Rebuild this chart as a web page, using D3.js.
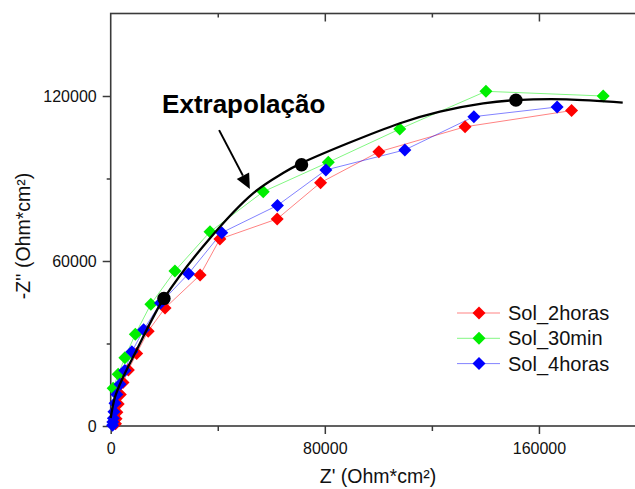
<!DOCTYPE html>
<html>
<head>
<meta charset="utf-8">
<script src="https://cdn.jsdelivr.net/npm/d3@7"></script>
<style>
  body { margin: 0; background: #fff; }
  svg { display: block; font-family: Arial, "Liberation Sans", sans-serif; }
</style>
</head>
<body>
<div id="chart"></div>
<script>
// Nyquist data, values in Ohm*cm2 (Z', -Z'')
var sol2horasX = [1800, 2000, 2300, 2800, 3600, 4600, 6600, 9700, 14000, 20300, 33400, 40800, 62200, 78400, 100200, 132400, 172200];
var sol2horasY = [800, 2600, 5000, 8000, 11500, 15800, 20400, 26400, 34500, 42900, 54900, 68000, 75300, 88500, 99700, 108800, 114700];

var sol30minX = [900, 2800, 5300, 9200, 15000, 24000, 37100, 57000, 81300, 108000, 140200, 184000];
var sol30minY = [13700, 18800, 24800, 33400, 44300, 56400, 70600, 85200, 95900, 108000, 121700, 120000];

var sol4horasX = [700, 800, 1000, 1200, 1600, 2300, 3500, 5300, 7900, 12300, 18600, 29100, 41500, 62300, 80400, 109900, 135700, 166800];
var sol4horasY = [300, 1500, 2800, 5200, 8300, 11500, 15200, 20200, 27000, 35000, 44700, 55400, 70300, 80200, 93100, 100400, 112500, 116000];

// extrapolated arc
var extrapX = [0, 1600, 4700, 9700, 15300, 19900, 37100, 53300, 64400, 71300, 108100, 123000, 139200, 151400, 170300, 191300];
var extrapY = [2900, 10500, 17900, 27600, 38500, 46400, 68300, 84700, 92000, 95600, 110100, 114300, 117300, 118500, 118800, 117600];
var dotX = [19900, 71300, 151400];
var dotY = [46400, 95000, 118500];

var seriesNames = ["Sol_2horas", "Sol_30min", "Sol_4horas"];
var seriesColors = ["#ff0000", "#00ee00", "#0000ff"];

var xMajor = [0, 80000, 160000];
var xMinor = [40000, 120000, 200000];
var yMajor = [0, 60000, 120000];
var yMinor = [30000, 90000];

var W = 635, H = 489;
var svg = d3.select("#chart").append("svg").attr("width", W).attr("height", H);

var x = d3.scaleLinear().domain([0, 200000]).range([110.7, 646]);
var y = d3.scaleLinear().domain([0, 150000]).range([426, 13.5]);

var axisColor = "#3a3a3a";

function zip(xs, ys) {
    return xs.map(function(d, i) { return [d, ys[i]]; });
}

// axes
function styleAxis(g) {
    g.select(".domain").remove();
    g.selectAll("line").attr("stroke", axisColor).attr("stroke-width", 1.5);
    g.selectAll("text").attr("fill", "#111").attr("font-size", "16px")
        .attr("font-family", "Arial, 'Liberation Sans', sans-serif");
}

svg.append("g").attr("transform", "translate(0," + y(0) + ")")
    .call(d3.axisBottom(x).tickValues(xMajor).tickSize(8).tickPadding(9).tickFormat(d3.format("d")))
    .call(styleAxis);
svg.append("g").attr("transform", "translate(0," + y(0) + ")")
    .call(d3.axisBottom(x).tickValues(xMinor).tickSize(5).tickFormat(""))
    .call(styleAxis);
svg.append("g").attr("transform", "translate(0," + y(150000) + ")")
    .call(d3.axisBottom(x).tickValues(xMajor.slice(1)).tickSize(8).tickFormat(""))
    .call(styleAxis);
svg.append("g").attr("transform", "translate(0," + y(150000) + ")")
    .call(d3.axisBottom(x).tickValues(xMinor).tickSize(4).tickFormat(""))
    .call(styleAxis);
svg.append("g").attr("transform", "translate(" + x(0) + ",0)")
    .call(d3.axisLeft(y).tickValues(yMajor).tickSize(8).tickPadding(6).tickFormat(d3.format("d")))
    .call(styleAxis);
svg.append("g").attr("transform", "translate(" + x(0) + ",0)")
    .call(d3.axisLeft(y).tickValues(yMinor).tickSize(4).tickFormat(""))
    .call(styleAxis);

// frame
svg.append("rect")
    .attr("x", x(0)).attr("y", y(150000))
    .attr("width", x(200000) - x(0)).attr("height", y(0) - y(150000))
    .attr("fill", "none").attr("stroke", axisColor).attr("stroke-width", 1.6);

// axis titles
svg.append("text")
    .attr("x", 378).attr("y", 483)
    .attr("text-anchor", "middle").attr("font-size", "19.5px").attr("fill", "#111")
    .text("Z' (Ohm*cm²)");
svg.append("text")
    .attr("transform", "translate(30,236) rotate(-90)")
    .attr("text-anchor", "middle").attr("font-size", "19.5px").attr("fill", "#111")
    .text("-Z'' (Ohm*cm²)");

// series
var diamond = function(s) {
    return "M0," + (-s) + "L" + s + ",0L0," + s + "L" + (-s) + ",0Z";
};
var line = d3.line().x(function(d) { return x(d[0]); }).y(function(d) { return y(d[1]); });

var allSeries = [zip(sol2horasX, sol2horasY), zip(sol30minX, sol30minY), zip(sol4horasX, sol4horasY)];

allSeries.forEach(function(pts, i) {
    svg.append("path")
        .attr("d", line(pts))
        .attr("fill", "none")
        .attr("stroke", seriesColors[i])
        .attr("stroke-opacity", 0.55)
        .attr("stroke-width", 0.9);
});
allSeries.forEach(function(pts, i) {
    svg.append("g").selectAll("path")
        .data(pts)
        .enter().append("path")
        .attr("transform", function(d) { return "translate(" + x(d[0]) + "," + y(d[1]) + ")"; })
        .attr("d", diamond(6.5))
        .attr("fill", seriesColors[i]);
});

// extrapolation curve
svg.append("path")
    .attr("d", line.curve(d3.curveCatmullRom.alpha(0.5))(zip(extrapX, extrapY)))
    .attr("fill", "none")
    .attr("stroke", "#000")
    .attr("stroke-width", 2.3);

svg.append("g").selectAll("circle")
    .data(zip(dotX, dotY))
    .enter().append("circle")
    .attr("cx", function(d) { return x(d[0]); })
    .attr("cy", function(d) { return y(d[1]); })
    .attr("r", 6.7)
    .attr("fill", "#000");

// annotation
svg.append("text")
    .attr("x", x(19200)).attr("y", y(114000))
    .attr("font-size", "26px").attr("font-weight", "bold").attr("fill", "#000")
    .text("Extrapolação");

var a0 = [x(40500), y(107600)], a1 = [x(52000), y(86200)];
var ang = Math.atan2(a1[1] - a0[1], a1[0] - a0[0]);
var headLen = 15, headW = 7;
var base = [a1[0] - headLen * Math.cos(ang), a1[1] - headLen * Math.sin(ang)];
svg.append("line")
    .attr("x1", a0[0]).attr("y1", a0[1]).attr("x2", base[0]).attr("y2", base[1])
    .attr("stroke", "#000").attr("stroke-width", 2);
svg.append("path")
    .attr("d", "M" + a1[0] + "," + a1[1] +
        "L" + (base[0] + headW * Math.sin(ang)) + "," + (base[1] - headW * Math.cos(ang)) +
        "L" + (base[0] - headW * Math.sin(ang)) + "," + (base[1] + headW * Math.cos(ang)) + "Z")
    .attr("fill", "#000");

// legend
var legend = svg.append("g").attr("transform", "translate(457,313)");
seriesNames.forEach(function(name, i) {
    var row = legend.append("g").attr("transform", "translate(0," + (i * 25.3) + ")");
    row.append("line").attr("x1", 0).attr("x2", 43).attr("y1", 0).attr("y2", 0)
        .attr("stroke", seriesColors[i]).attr("stroke-opacity", 0.55).attr("stroke-width", 0.9);
    row.append("path").attr("transform", "translate(22,0)").attr("d", diamond(6.5)).attr("fill", seriesColors[i]);
    row.append("text").attr("x", 51).attr("y", 7).attr("font-size", "20px").attr("fill", "#111").text(name);
});
</script>
</body>
</html>
